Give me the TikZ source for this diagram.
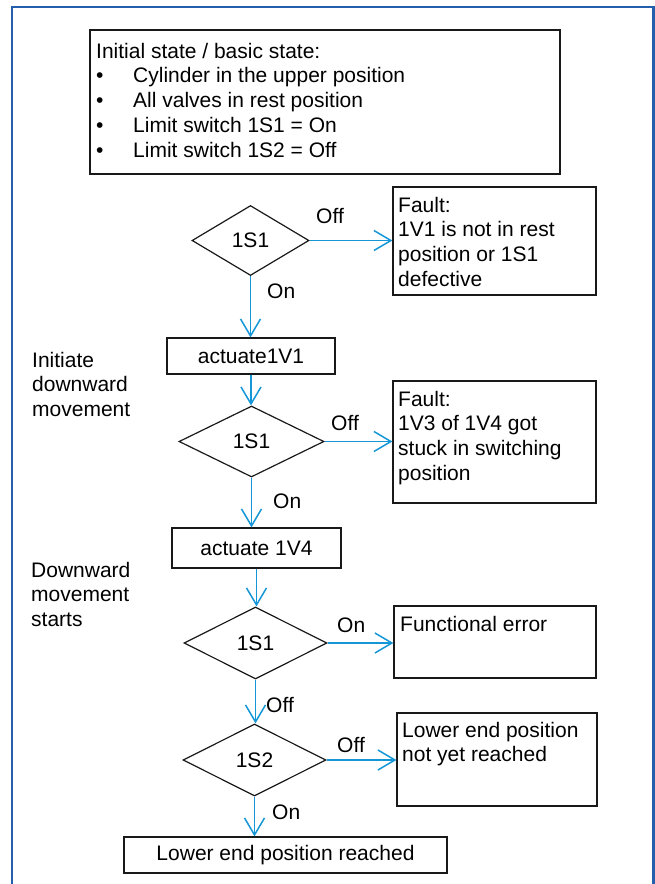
\documentclass[tikz,border=0pt]{standalone}
\usepackage{fontspec}
\setmainfont{Liberation Sans}
\usetikzlibrary{shapes.geometric,arrows.meta}
\definecolor{flow}{RGB}{20,150,215}
\definecolor{framecol}{RGB}{35,95,170}
\newcommand{\firstline}{\rule{0pt}{16pt}}
\begin{document}
\begin{tikzpicture}[x=1pt,y=-1pt,
  font=\fontsize{21}{24.7}\selectfont,
  box/.style={draw=black!90, line width=1.2pt, rectangle, inner sep=0pt},
  dia/.style={draw=black!90, line width=1.2pt, diamond, inner sep=0pt},
  lbl/.style={anchor=base west, inner sep=0pt},
  txt/.style={anchor=north west, inner sep=0pt, align=left},
  flowarrow/.style={draw=flow, line width=1.5pt, -{Straight Barb[length=17pt,width=20pt]}}]
\useasboundingbox (0,0) rectangle (655,884);
% outer frame
\draw[framecol, line width=2.5pt] (12,895) -- (12,7) -- (653.5,7) -- (653.5,895);

% boxes
\node[box, minimum width=470, minimum height=144] (init) at (325,102) {};
\node[txt] (initt) at (96,42) {\firstline Initial state / basic state:\\
\makebox[37pt][l]{•}Cylinder in the upper position\\
\makebox[37pt][l]{•}All valves in rest position\\
\makebox[37pt][l]{•}Limit switch 1S1 = On\\
\makebox[37pt][l]{•}Limit switch 1S2 = Off};

\node[dia, minimum width=117, minimum height=70] (d1) at (250.5,240.5) {1S1};
\node[box, minimum width=203, minimum height=108] (f1) at (494.5,241) {};
\node[txt] (f1t) at (398,196) {\firstline Fault:\\1V1 is not in rest\\position or 1S1\\defective};

\node[box, minimum width=168, minimum height=36] (a1) at (251,356) {actuate1V1};
\node[txt] (ini) at (32,351) {\firstline Initiate\\downward\\movement};

\node[dia, minimum width=145, minimum height=71] (d2) at (251.5,441.5) {1S1};
\node[box, minimum width=203, minimum height=122] (f2) at (494.5,442) {};
\node[txt] (f2t) at (398,390) {\firstline Fault:\\1V3 of 1V4 got\\stuck in switching\\position};

\node[box, minimum width=169, minimum height=40] (a4) at (256.5,548) {actuate 1V4};
\node[txt] (dws) at (31,561) {\firstline Downward\\movement\\starts};

\node[dia, minimum width=143, minimum height=72] (d3) at (255.5,643) {1S1};
\node[box, minimum width=202, minimum height=72] (fe) at (495,642) {};
\node[lbl] (fet) at (400,631) {Functional error};

\node[dia, minimum width=143, minimum height=72] (d4) at (254.5,760) {1S2};
\node[box, minimum width=200, minimum height=93] (le) at (497,759.5) {};
\node[txt] (let) at (402,721) {\firstline Lower end position\\not yet reached};

\node[box, minimum width=323, minimum height=36] (fin) at (285.5,855) {Lower end position reached};

% connectors
\draw[flowarrow] (d1.east) -- (d1.east -| f1.west);
\draw[flowarrow] (d1.south) -- (d1.south |- a1.north);
\draw[flowarrow] (a1.south) -- (a1.south |- d2.north);
\draw[flowarrow] (d2.east) -- (d2.east -| f2.west);
\draw[flowarrow] (d2.south) -- (d2.south |- a4.north);
\draw[flowarrow] (a4.south) -- (a4.south |- d3.north);
\draw[flowarrow] (d3.east) -- (d3.east -| fe.west);
\draw[flowarrow] (d3.south) -- (d3.south |- d4.north);
\draw[flowarrow] (d4.east) -- (d4.east -| le.west);
\draw[flowarrow] (d4.south) -- (d4.south |- fin.north);

% labels
\node[lbl] (l1) at (316,223) {Off};
\node[lbl] (l2) at (267,298) {On};
\node[lbl] (l3) at (331,430) {Off};
\node[lbl] (l4) at (273,508) {On};
\node[lbl] (l5) at (337,632) {On};
\node[lbl] (l6) at (266,712) {Off};
\node[lbl] (l7) at (337,752) {Off};
\node[lbl] (l8) at (272,819) {On};
\end{tikzpicture}
\end{document}
